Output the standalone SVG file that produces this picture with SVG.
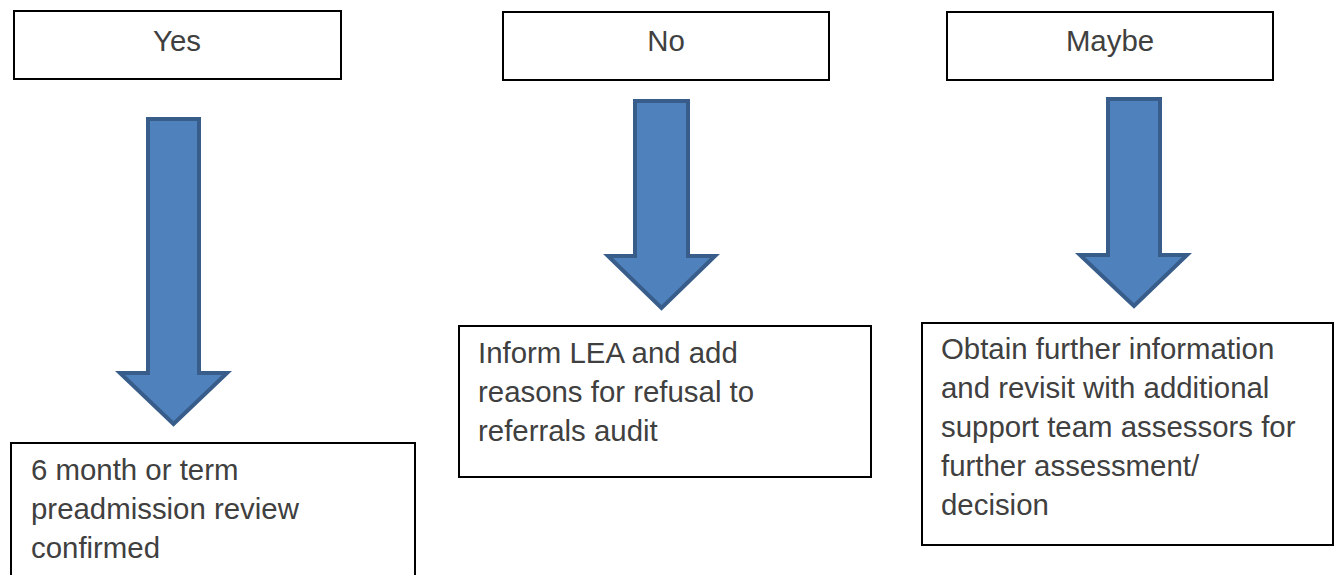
<svg xmlns="http://www.w3.org/2000/svg" width="1337" height="575" viewBox="0 0 1337 575">
<style>
.box{fill:#fff;stroke:#000;stroke-width:2}
.arrow{fill:#4f81bd;stroke:#385d8a;stroke-width:4;stroke-linejoin:miter}
.t{font-family:"Liberation Sans",Arial,sans-serif;font-size:29.4px;fill:#404040}
.c{text-anchor:middle}
</style>
<rect width="1337" height="575" fill="#fff"/>
<g id="yes"><rect class="box" x="14" y="11" width="327" height="68"/><text class="t c" x="177" y="51">Yes</text></g>
<g id="no"><rect class="box" x="503" y="12" width="326" height="68"/><text class="t c" x="666" y="51">No</text></g>
<g id="maybe"><rect class="box" x="947" y="12" width="326" height="68"/><text class="t c" x="1110" y="51">Maybe</text></g>
<g id="connectors">
<path class="arrow" d="M148,119 H199 V373 H227 L173.5,424 L120,373 H148 Z"/>
<path class="arrow" d="M635,101 H688 V256 H715 L661.5,308 L608,256 H635 Z"/>
<path class="arrow" d="M1108,99 H1160 V255 H1187 L1134,306 L1080,255 H1108 Z"/>
</g>
<g id="yes-result"><rect class="box" x="11" y="443" width="404" height="140"/>
<text class="t" x="31"><tspan x="31" y="480">6 month or term</tspan><tspan x="31" y="519">preadmission review</tspan><tspan x="31" y="558">confirmed</tspan></text></g>
<g id="no-result"><rect class="box" x="459" y="326" width="412" height="151"/>
<text class="t" x="478"><tspan x="478" y="363">Inform LEA and add</tspan><tspan x="478" y="402">reasons for refusal to</tspan><tspan x="478" y="441">referrals audit</tspan></text></g>
<g id="maybe-result"><rect class="box" x="922" y="323" width="411" height="222"/>
<text class="t" x="941"><tspan x="941" y="359">Obtain further information</tspan><tspan x="941" y="398">and revisit with additional</tspan><tspan x="941" y="437">support team assessors for</tspan><tspan x="941" y="476">further assessment/</tspan><tspan x="941" y="515">decision</tspan></text></g>
</svg>
